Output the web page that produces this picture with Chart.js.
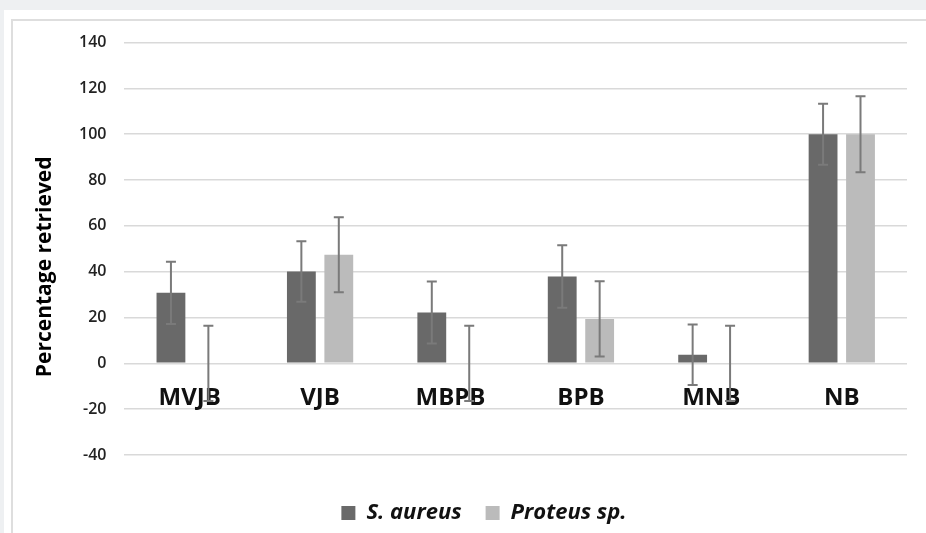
<!DOCTYPE html>
<html>
<head>
<meta charset="utf-8">
<script src="https://cdn.jsdelivr.net/npm/chart.js@4.4.0/dist/chart.umd.min.js"></script>
<style>
  body { margin: 0; background: #eef0f2; overflow: hidden; }
  #panel { position: absolute; left: 4px; top: 10px; width: 930px; height: 530px; background: #fff; }
  #frame { position: absolute; left: 11px; top: 19px; width: 930px; height: 530px;
           border-top: 2px solid #dedede; border-left: 2px solid #dedede; }
  #c { position: absolute; left: 13px; top: 15px; }
</style>
</head>
<body>
<div id="panel"></div>
<div id="frame"></div>
<canvas id="c" width="914" height="519"></canvas>
<script>
// data
const categories = ["MVJB", "VJB", "MBPB", "BPB", "MNB", "NB"];
const seriesNames = ["S. aureus", "Proteus sp."];
const saureus = [30.8, 40.1, 22.2, 37.9, 3.8, 100];
const saureusErr = [13.6, 13.2, 13.5, 13.6, 13.2, 13.3];
const proteus = [0, 47.4, 0, 19.4, 0, 100];
const proteusErr = [16.4, 16.4, 16.4, 16.4, 16.4, 16.6];
const yMin = -40, yMax = 140, yStep = 20;

const FONT = "'Open Sans', sans-serif";

// error bars drawn on top of the bars
const errorBars = {
  id: "errorBars",
  afterDatasetsDraw(chart) {
    const ctx = chart.ctx;
    const y = chart.scales.y;
    const errs = [saureusErr, proteusErr];
    ctx.save();
    ctx.strokeStyle = "#7a7a7a";
    ctx.lineWidth = 2;
    chart.data.datasets.forEach((ds, di) => {
      const meta = chart.getDatasetMeta(di);
      meta.data.forEach((bar, i) => {
        const v = ds.data[i], e = errs[di][i];
        const top = y.getPixelForValue(v + e);
        const bot = y.getPixelForValue(v - e);
        const x = bar.x;
        ctx.beginPath();
        ctx.moveTo(x, top); ctx.lineTo(x, bot);
        ctx.moveTo(x - 5, top); ctx.lineTo(x + 5, top);
        ctx.moveTo(x - 5, bot); ctx.lineTo(x + 5, bot);
        ctx.stroke();
      });
    });
    ctx.restore();
  }
};

// y axis title, drawn a little below the middle like the original
const yTitle = {
  id: "yTitle",
  afterDraw(chart) {
    const ctx = chart.ctx;
    const a = chart.chartArea;
    ctx.save();
    ctx.translate(32, (a.top + a.bottom) / 2 + 18);
    ctx.rotate(-Math.PI / 2);
    ctx.font = "bold 21px " + FONT;
    ctx.fillStyle = "#000";
    ctx.textAlign = "center";
    ctx.textBaseline = "middle";
    ctx.fillText("Percentage retrieved", 0, 0);
    ctx.restore();
  }
};

new Chart(document.getElementById("c"), {
  type: "bar",
  data: {
    labels: categories,
    datasets: [
      { label: seriesNames[0], data: saureus, backgroundColor: "#696969" },
      { label: seriesNames[1], data: proteus, backgroundColor: "#bbbbbb" }
    ]
  },
  options: {
    responsive: false,
    animation: false,
    categoryPercentage: 0.574,
    barPercentage: 0.77,
    layout: { padding: { left: 48, right: 20, top: 15, bottom: 0 } },
    scales: {
      x: {
        position: { y: 0 },
        grid: { display: false, drawTicks: false },
        border: { display: false },
        ticks: { color: "#111", padding: 20, font: { family: FONT, size: 24, weight: "bold" } }
      },
      y: {
        min: yMin, max: yMax,
        grid: { color: "#d9d9d9", lineWidth: 1.5, drawTicks: false },
        border: { display: false },
        ticks: { stepSize: yStep, padding: 18, color: "#222", font: { family: FONT, size: 16, weight: "600" } }
      }
    },
    plugins: {
      tooltip: { enabled: false },
      legend: {
        position: "bottom",
        title: { display: true, text: " ", padding: { top: 11, bottom: 0 }, font: { size: 10 } },
        labels: {
          boxWidth: 14, boxHeight: 14, padding: 24, color: "#111",
          font: { family: FONT, size: 22, weight: "bold", style: "italic" }
        }
      }
    }
  },
  plugins: [errorBars, yTitle]
});
</script>
</body>
</html>
